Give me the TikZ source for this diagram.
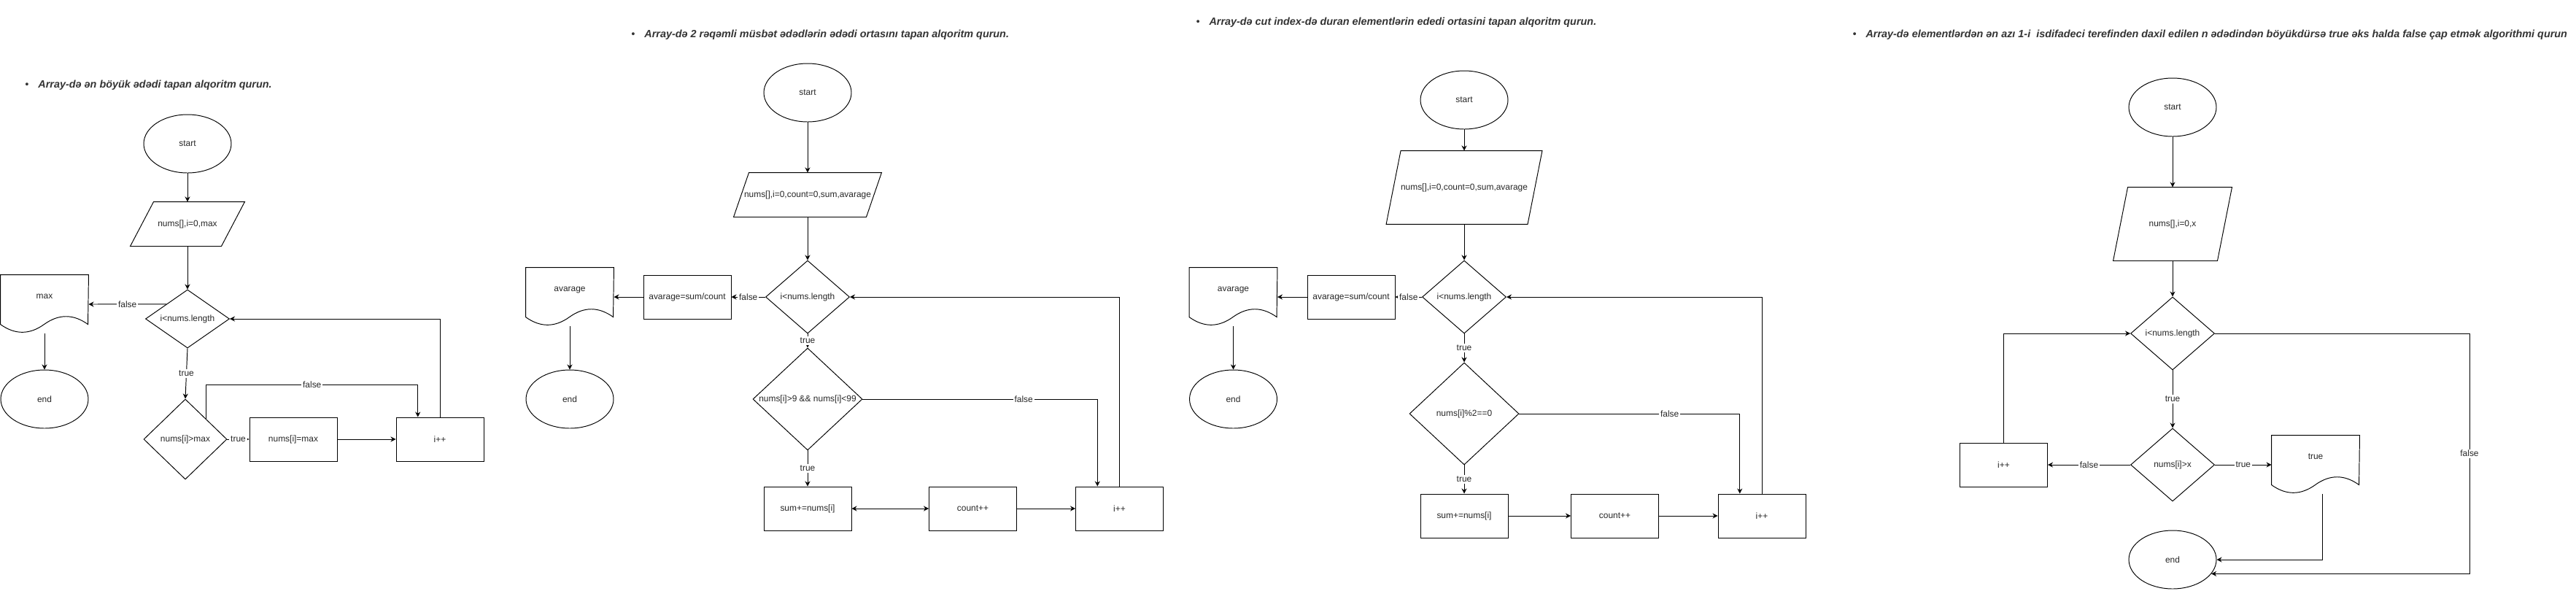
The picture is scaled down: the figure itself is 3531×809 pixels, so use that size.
\documentclass[tikz,border=0pt]{standalone}
\usepackage{fontspec}
\setmainfont{Liberation Sans}
\usepackage{tikz}
\usetikzlibrary{positioning,arrows.meta,calc,shapes.geometric}

% document symbol: box with a wavy bottom edge
\newcommand{\docshape}[1]{%
  \draw (#1.north west) -- (#1.north east) -- ($(#1.north west)+(120,68)$)
    .. controls ($(#1.north west)+(100,53.6)$) and ($(#1.north west)+(80,53.6)$) .. ($(#1.north west)+(60,68)$)
    .. controls ($(#1.north west)+(40,82.4)$) and ($(#1.north west)+(20,82.4)$) .. ($(#1.north west)+(0,68)$) -- cycle;}
% input symbol: parallelogram inside the node box
\newcommand{\parashape}[2]{%
  \draw (#1.south west) -- ($(#1.north west)+(#2,0)$) -- (#1.north east) -- ($(#1.south east)-(#2,0)$) -- cycle;}

\begin{document}
\begin{tikzpicture}[x=0.02cm, y=-0.02cm, line width=0.55pt,
  every node/.style={font=\fontsize{6.8}{8}\selectfont, text=black!85},
  term/.style={ellipse, draw, minimum width=2.4cm, minimum height=1.6cm, inner sep=0pt},
  proc/.style={rectangle, draw, minimum width=2.4cm, minimum height=1.2cm, inner sep=0pt},
  dec/.style={diamond, draw, inner sep=0pt},
  io/.style={rectangle, inner sep=0pt},
  doc/.style={rectangle, minimum width=2.4cm, minimum height=1.6cm, inner sep=0pt, text height=0.2cm, text depth=0.51cm},
  lbl/.style={fill=white, inner sep=1pt},
  arr/.style={-{Stealth[length=4pt,width=4pt]}},
  title/.style={anchor=west, inner sep=0pt, text=black!80, font=\fontsize{8.2}{10}\selectfont\bfseries\itshape}]
\useasboundingbox (0,0) rectangle (3531,809);

% Task 1
\node[title] (t1) at (34,117) {\makebox[0.36cm][l]{\mdseries •}Array-də ən böyük ədədi tapan alqoritm qurun.};
\node[term] (s1) at (257,197) {start};
\node[io, minimum width=3.12cm, minimum height=1.2cm] (p1) at (257,307) {nums[],i=0,max};
\parashape{p1}{32}
\node[dec, minimum width=2.3cm, minimum height=1.6cm] (c1) at (257,437) {\makebox[0pt]{i<nums.length}};
\node[doc] (mx) at (61,417) {max};
\docshape{mx}
\node[term] (e1) at (61,547) {end};
\node[dec, minimum width=2.28cm, minimum height=2.2cm] (c1b) at (254,602) {\makebox[0pt]{nums[i]>max}};
\node[proc] (b1) at (402,602) {nums[i]=max};
\node[proc] (i1) at (603,602) {i++};

\draw[arr] (s1.south) -- (p1.north);
\draw[arr] (p1.south) -- (c1.north);
\draw[arr] ($(c1.west)!0.5!(c1.north)$) -- node[lbl]{false} (mx.east);
\draw[arr] (mx.south) -- (e1.north);
\draw[arr] (c1.south) -- node[lbl]{true} (c1b.north);
\draw[arr] (c1b.east) -- node[lbl]{true} (b1.west);
\draw[arr] (b1.east) -- (i1.west);
\draw[arr] ($(c1b.north)!0.5!(c1b.east)$) -- ++(0,-47) -| node[lbl, pos=0.25]{false} ($(i1.north west)!0.25!(i1.north east)$);
\draw[arr] (i1.north) |- (c1.east);

% Task 2
\node[title] (t2) at (865,48) {\makebox[0.36cm][l]{\mdseries •}Array-də 2 rəqəmli müsbət ədədlərin ədədi ortasını tapan alqoritm qurun.};
\node[term] (s2) at (1107,127) {start};
\node[io, minimum width=4.04cm, minimum height=1.2cm] (p2) at (1107,267) {nums[],i=0,count=0,sum,avarage};
\parashape{p2}{21}
\node[dec, minimum width=2.3cm, minimum height=2cm] (c2a) at (1107,407) {\makebox[0pt]{i<nums.length}};
\node[proc] (a2) at (942,407) {avarage=sum/count};
\node[doc] (d2) at (781,407) {avarage};
\docshape{d2}
\node[term] (e2) at (781,547) {end};
\node[dec, minimum width=3cm, minimum height=2.8cm] (c2b) at (1107,547) {\makebox[0pt]{nums[i]>9 \&\& nums[i]<99}};
\node[proc] (b2s) at (1107,697) {sum+=nums[i]};
\node[proc] (b2c) at (1333.5,697) {count++};
\node[proc] (b2i) at (1534.5,697) {i++};

\draw[arr] (s2.south) -- (p2.north);
\draw[arr] (p2.south) -- (c2a.north);
\draw[arr] (c2a.west) -- node[lbl]{false} (a2.east);
\draw[arr] (a2.west) -- (d2.east);
\draw[arr] (d2.south) -- (e2.north);
\draw[arr] (c2a.south) -- node[lbl]{true} (c2b.north);
\draw[arr] (c2b.south) -- node[lbl]{true} (b2s.north);
\draw[{Stealth[length=4pt,width=4pt]}-{Stealth[length=4pt,width=4pt]}] (b2s.east) -- (b2c.west);
\draw[arr] (b2c.east) -- (b2i.west);
\draw[arr] (c2b.east) -| node[lbl, pos=0.343]{false} ($(b2i.north west)!0.25!(b2i.north east)$);
\draw[arr] (b2i.north) |- (c2a.east);

% Task 3
\node[title] (t3) at (1639,31) {\makebox[0.36cm][l]{\mdseries •}Array-də cut index-də duran elementlərin ededi ortasini tapan alqoritm qurun.};
\node[term] (s3) at (2007,137) {start};
\node[io, minimum width=4.26cm, minimum height=2cm] (p3) at (2007,257) {nums[],i=0,count=0,sum,avarage};
\parashape{p3}{20}
\node[dec, minimum width=2.3cm, minimum height=2cm] (c3a) at (2007,407) {\makebox[0pt]{i<nums.length}};
\node[proc] (a3) at (1852,407) {avarage=sum/count};
\node[doc] (d3) at (1690.5,407) {avarage};
\docshape{d3}
\node[term] (e3) at (1690.5,547) {end};
\node[dec, minimum width=3cm, minimum height=2.8cm] (c3b) at (2007,567) {\makebox[0pt]{nums[i]\%2==0}};
\node[proc] (b3s) at (2007,707) {sum+=nums[i]};
\node[proc] (b3c) at (2213.5,707) {count++};
\node[proc] (b3i) at (2415,707) {i++};

\draw[arr] (s3.south) -- (p3.north);
\draw[arr] (p3.south) -- (c3a.north);
\draw[arr] (c3a.west) -- node[lbl]{false} (a3.east);
\draw[arr] (a3.west) -- (d3.east);
\draw[arr] (d3.south) -- (e3.north);
\draw[arr] (c3a.south) -- node[lbl]{true} (c3b.north);
\draw[arr] (c3b.south) -- node[lbl]{true} (b3s.north);
\draw[arr] (b3s.east) -- (b3c.west);
\draw[arr] (b3c.east) -- (b3i.west);
\draw[arr] (c3b.east) -| node[lbl, pos=0.341]{false} ($(b3i.north west)!0.25!(b3i.north east)$);
\draw[arr] (b3i.north) |- (c3a.east);

% Task 4
\node[title] (t4) at (2539,48) {\makebox[0.36cm][l]{\mdseries •}Array-də elementlərdən ən azı 1-i \ isdifadeci terefinden daxil edilen n ədədindən böyükdürsə true əks halda false çap etmək algorithmi qurun};
\node[term] (s4) at (2978,147) {start};
\node[io, minimum width=3.24cm, minimum height=2cm] (p4) at (2978,307) {nums[],i=0,x};
\parashape{p4}{20}
\node[dec, minimum width=2.3cm, minimum height=2cm] (c4a) at (2978,457) {\makebox[0pt]{i<nums.length}};
\node[dec, minimum width=2.3cm, minimum height=2cm] (c4b) at (2978,637) {\makebox[0pt]{nums[i]>x}};
\node[proc] (i4) at (2746.5,637) {i++};
\node[doc] (d4) at (3174,637) {true};
\docshape{d4}
\node[term] (e4) at (2978,767) {end};

\draw[arr] (s4.south) -- (p4.north);
\draw[arr] (p4.south) -- (c4a.north);
\draw[arr] (c4a.south) -- node[lbl]{true} (c4b.north);
\draw[arr] (c4b.west) -- node[lbl]{false} (i4.east);
\draw[arr] (i4.north) |- (c4a.west);
\draw[arr] (c4b.east) -- node[lbl]{true} (d4.west);
\draw[arr] ($(d4.south)+(9,0)$) |- (e4.east);
\draw[arr] (c4a.east) -- ++(349,0) |- node[lbl, pos=0.25]{false} (e4.-20);
\end{tikzpicture}
\end{document}
